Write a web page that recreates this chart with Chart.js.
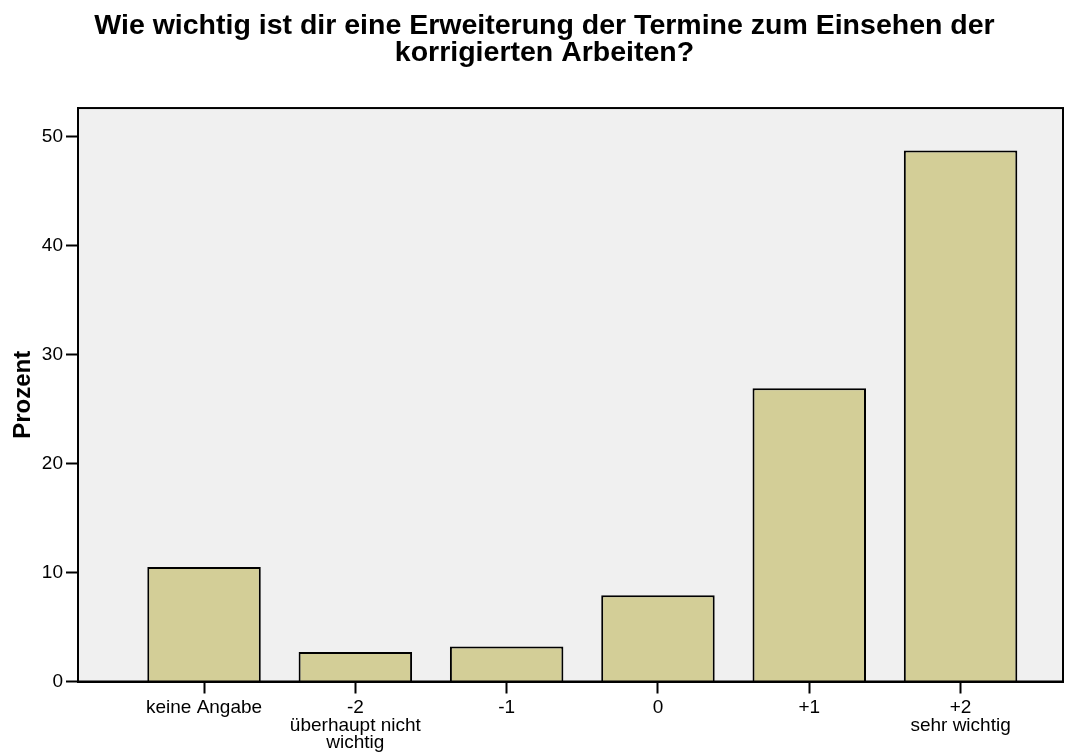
<!DOCTYPE html>
<html>
<head>
<meta charset="utf-8">
<script src="https://cdn.jsdelivr.net/npm/chart.js@4"></script>
<style>
    body { margin: 0; background: #fff; }
    #wrap { width: 1075px; height: 753px; }
</style>
</head>
<body>
<div id="wrap"><canvas id="chart"></canvas></div>
<script>
const categories = [
    ["keine Angabe"],
    ["-2", "überhaupt nicht", "wichtig"],
    ["-1"],
    ["0"],
    ["+1"],
    ["+2", "sehr wichtig"]
];
const prozent = [10.5, 2.7, 3.2, 7.9, 26.9, 48.7];
const yTicks = [0, 10, 20, 30, 40, 50];

const points = prozent.map((v, i) => ({ x: i + 1, y: v }));

// grey plot background + black box round the plot
const plotFrame = {
    id: "plotFrame",
    beforeDraw(chart) {
        const a = chart.chartArea;
        const ctx = chart.ctx;
        ctx.save();
        ctx.fillStyle = "#f0f0f0";
        ctx.fillRect(a.left, a.top, a.right - a.left, a.bottom - a.top);
        ctx.restore();
    },
    afterDraw(chart) {
        const a = chart.chartArea;
        const ctx = chart.ctx;
        ctx.save();
        ctx.strokeStyle = "#000";
        ctx.lineWidth = 2;
        ctx.strokeRect(a.left, a.top, a.right - a.left, a.bottom - a.top);
        ctx.restore();
    }
};

new Chart(document.getElementById("chart"), {
    type: "bar",
    data: {
        datasets: [{
            data: points,
            backgroundColor: "#d3ce97",
            borderColor: "#000",
            borderWidth: 2,
            barPercentage: 0.75,
            categoryPercentage: 1
        }]
    },
    options: {
        responsive: true,
        maintainAspectRatio: false,
        animation: false,
        layout: { padding: { left: 14, right: 0 } },
        plugins: {
            legend: { display: false },
            tooltip: { enabled: false },
            title: {
                display: true,
                text: ["Wie wichtig ist dir eine Erweiterung der Termine zum Einsehen der", "korrigierten Arbeiten?"],
                color: "#000",
                font: { family: "Liberation Sans", size: 28.5, weight: "bold", lineHeight: 0.95 },
                padding: { top: 12.5, bottom: 41.4 }
            }
        },
        scales: {
            x: {
                type: "linear",
                offset: false,
                min: 0.167,
                max: 6.677,
                afterBuildTicks: s => { s.ticks = categories.map((c, i) => ({ value: i + 1 })); },
                afterFit: s => { s.height = 71.5; s.paddingRight = 12; },
                ticks: {
                    color: "#000",
                    font: { family: "Liberation Sans", size: 19, lineHeight: 0.92 },
                    padding: 6,
                    maxRotation: 0,
                    autoSkip: false,
                    callback: v => categories[v - 1]
                },
                grid: { offset: false, drawOnChartArea: false, drawTicks: true, tickLength: 12, tickWidth: 2, tickColor: "#000" },
                border: { display: true, color: "#000", width: 2 }
            },
            y: {
                min: 0,
                max: 52.6,
                afterBuildTicks: s => { s.ticks = yTicks.map(v => ({ value: v })); },
                afterFit: s => { s.width = 64; },
                ticks: {
                    color: "#000",
                    font: { family: "Liberation Sans", size: 19 },
                    padding: 3
                },
                grid: { drawOnChartArea: false, drawTicks: true, tickLength: 12, tickWidth: 2, tickColor: "#000" },
                border: { display: true, color: "#000", width: 2 },
                title: {
                    display: true,
                    text: "Prozent",
                    color: "#000",
                    font: { family: "Liberation Sans", size: 24, weight: "bold", lineHeight: 1.0 },
                    padding: { top: -3, bottom: 0 }
                }
            }
        }
    },
    plugins: [plotFrame]
});
</script>
</body>
</html>
